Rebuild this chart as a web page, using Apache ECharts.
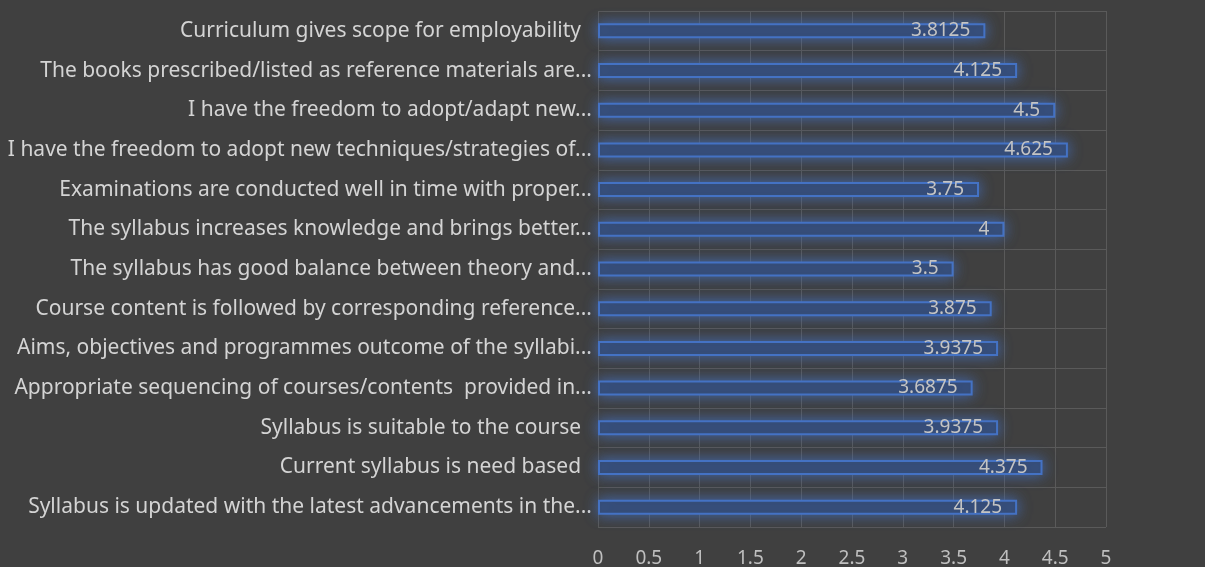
<!DOCTYPE html>
<html>
<head>
<meta charset="utf-8">
<script src="https://cdn.jsdelivr.net/npm/echarts@6/dist/echarts.min.js"></script>
<style>
html,body{margin:0;padding:0;background:#404040;}
#chart{width:1205px;height:567px;}
</style>
</head>
<body>
<div id="chart"></div>
<script>
// categories listed top to bottom
var categories = [
    'Curriculum gives scope for employability  ',
    'The books prescribed/listed as reference materials are...',
    'I have the freedom to adopt/adapt new...',
    'I have the freedom to adopt new techniques/strategies of...',
    'Examinations are conducted well in time with proper...',
    'The syllabus increases knowledge and brings better...',
    'The syllabus has good balance between theory and...',
    'Course content is followed by corresponding reference...',
    'Aims, objectives and programmes outcome of the syllabi...',
    'Appropriate sequencing of courses/contents  provided in...',
    'Syllabus is suitable to the course  ',
    'Current syllabus is need based  ',
    'Syllabus is updated with the latest advancements in the...'
];
var scores = [3.8125, 4.125, 4.5, 4.625, 3.75, 4, 3.5, 3.875, 3.9375, 3.6875, 3.9375, 4.375, 4.125];

var fontName = '"Noto Sans", sans-serif';

var option = {
    backgroundColor: '#404040',
    animation: false,
    grid: {
        left: 598,
        right: 99,
        top: 11,
        bottom: 40,
        outerBoundsMode: 'none'
    },
    xAxis: {
        type: 'value',
        min: 0,
        max: 5,
        interval: 0.5,
        axisLine: {show: false},
        axisTick: {show: false},
        axisLabel: {
            color: '#bfbfbf',
            fontFamily: fontName,
            fontSize: 19,
            margin: 22
        },
        splitLine: {lineStyle: {color: '#5a5a5a', width: 1}}
    },
    yAxis: {
        type: 'category',
        inverse: true,
        data: categories,
        axisLine: {show: false},
        axisTick: {show: false},
        axisLabel: {
            color: '#d4d4d4',
            fontFamily: fontName,
            fontSize: 21,
            margin: 6
        },
        splitLine: {show: true, lineStyle: {color: '#5a5a5a', width: 1}}
    },
    series: [{
        type: 'bar',
        data: scores,
        barWidth: 15,
        itemStyle: {
            color: '#34486e',
            borderColor: '#4472c4',
            borderWidth: 2,
            shadowBlur: 14,
            shadowColor: 'rgba(68,114,196,0.85)'
        },
        label: {
            show: true,
            position: 'insideRight',
            distance: 15,
            color: '#c4c4c4',
            fontFamily: fontName,
            fontSize: 19
        }
    }]
};

echarts.init(document.getElementById('chart')).setOption(option);
</script>
</body>
</html>
